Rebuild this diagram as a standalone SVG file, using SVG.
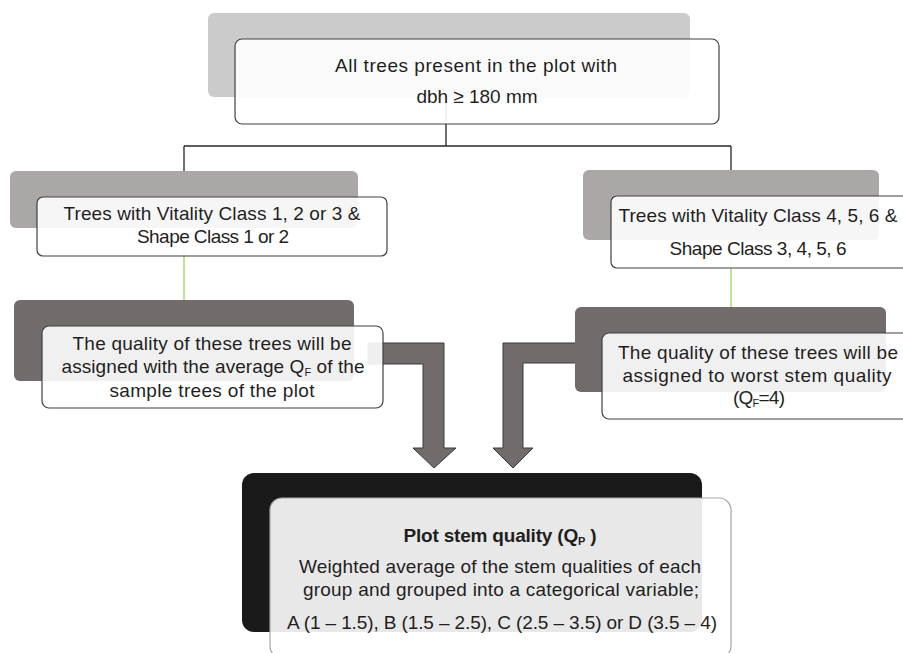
<svg xmlns="http://www.w3.org/2000/svg" width="903" height="653" viewBox="0 0 903 653">
<style>
  text { font-family: "Liberation Sans", Arial, sans-serif; font-size: 19px; fill: #1f1f1f; text-anchor: middle; }
  .front { fill: #ffffff; fill-opacity: 0.9; stroke: #404040; stroke-width: 1.2; }
  .front2 { fill: #ffffff; fill-opacity: 0.9; stroke: #a6a6a6; stroke-width: 1.2; }
  .sh1 { fill: #cccbcb; }
  .sh2 { fill: #aba7a6; }
  .sh3 { fill: #716c6b; }
  .sh4 { fill: #1a1a1a; }
  .conn { fill: none; stroke: #262626; stroke-width: 1.3; }
  .green { fill: none; stroke: #92d050; stroke-width: 1.2; }
  .arrow { fill: #716c6b; stroke: #3a3a3a; stroke-width: 1; }
  .sub { font-size: 11px; }
</style>
<g id="connectors">
  <path class="conn" d="M446,97 V146 M184,146 H731 M184,146 V171 M731,146 V171"/>
  <path class="green" d="M184,228 V300"/>
  <path class="green" d="M731,240 V307"/>
  <path class="arrow" d="M368,343 H444 V448 H456 L434,468 L413,448 H423 V364 H368 Z"/>
  <path class="arrow" d="M590,343 H503 V448 H493 L513,468 L533,448 H523 V363 H590 Z"/>
</g>
<g id="node-top">
  <rect class="sh1" x="208" y="13" width="482" height="84" rx="6"/>
  <rect class="front" x="235" y="39" width="484" height="85" rx="7"/>
  <text x="476" y="72" textLength="282" lengthAdjust="spacing">All trees present in the plot with</text>
  <text x="477" y="103" textLength="121" lengthAdjust="spacing">dbh ≥ 180 mm</text>
</g>
<g id="node-left1">
  <rect class="sh2" x="10" y="171" width="348" height="57" rx="6"/>
  <rect class="front" x="37" y="197" width="350" height="59" rx="6"/>
  <text x="212" y="220" textLength="297" lengthAdjust="spacing">Trees with Vitality Class 1, 2 or 3 &amp;</text>
  <text x="213" y="243" textLength="152" lengthAdjust="spacing">Shape Class 1 or 2</text>
</g>
<g id="node-right1">
  <rect class="sh2" x="583" y="170" width="296" height="70" rx="6"/>
  <rect class="front" x="611" y="196" width="300" height="72" rx="6"/>
  <text x="758" y="222" textLength="279" lengthAdjust="spacing">Trees with Vitality Class 4, 5, 6 &amp;</text>
  <text x="758" y="255" textLength="177" lengthAdjust="spacing">Shape Class 3, 4, 5, 6</text>
</g>
<g id="node-left2">
  <rect class="sh3" x="14" y="300" width="340" height="81" rx="6"/>
  <rect class="front" x="42" y="326" width="341" height="82" rx="7"/>
  <text x="212" y="350" textLength="279" lengthAdjust="spacing">The quality of these trees will be</text>
  <text x="213" y="373" textLength="303" lengthAdjust="spacing">assigned with the average Q<tspan class="sub" dy="3">F</tspan><tspan dy="-3"> of the</tspan></text>
  <text x="212" y="397" textLength="205" lengthAdjust="spacing">sample trees of the plot</text>
</g>
<g id="node-right2">
  <rect class="sh3" x="575" y="307" width="311" height="85" rx="6"/>
  <rect class="front" x="602" y="333" width="310" height="86" rx="7"/>
  <text x="758" y="359" textLength="280" lengthAdjust="spacing">The quality of these trees will be</text>
  <text x="757" y="382" textLength="269" lengthAdjust="spacing">assigned to worst stem quality</text>
  <text x="759" y="404" textLength="52" lengthAdjust="spacing">(Q<tspan class="sub" dy="3">F</tspan><tspan dy="-3">=4)</tspan></text>
</g>
<g id="node-bottom">
  <rect class="sh4" x="242" y="473" width="460" height="159" rx="12"/>
  <rect class="front2" x="270" y="498" width="461" height="160" rx="12"/>
  <text x="500" y="542" textLength="193" lengthAdjust="spacing" style="font-weight:bold">Plot stem quality (Q<tspan class="sub" dy="3">P</tspan><tspan dy="-3"> )</tspan></text>
  <text x="500" y="573" textLength="402" lengthAdjust="spacing">Weighted average of the stem qualities of each</text>
  <text x="501" y="596" textLength="396" lengthAdjust="spacing">group and grouped into a categorical variable;</text>
  <text x="502" y="629" textLength="430" lengthAdjust="spacing">A (1 – 1.5), B (1.5 – 2.5), C (2.5 – 3.5) or D (3.5 – 4)</text>
</g>
</svg>
